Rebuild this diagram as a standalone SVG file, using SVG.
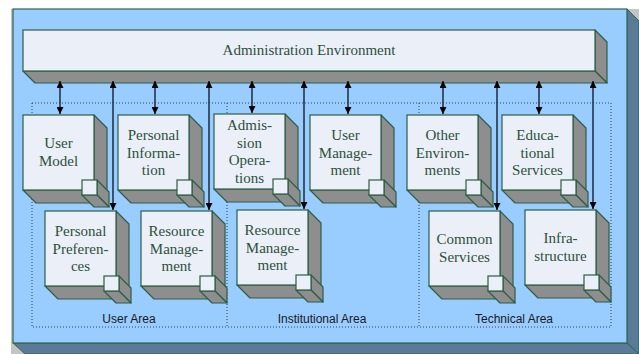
<svg xmlns="http://www.w3.org/2000/svg" width="639" height="354" viewBox="0 0 639 354">
<defs>
<style>
.front{fill:#ebf0f8;stroke:#2d5e44;stroke-width:1.2}
.side{fill:#8e8e8e;stroke:#2d5e44;stroke-width:1.2;stroke-linejoin:round}
.edge{fill:none;stroke:#2d5e44;stroke-width:1}
.lbl{font-family:'Liberation Serif',Tinos,'Times New Roman','DejaVu Serif',serif;font-size:15px;fill:#2e4f3c;text-anchor:middle}
.area{font-family:'Liberation Sans',Arial,sans-serif;font-size:12px;fill:#1a1a1a;text-anchor:middle}
.dot{fill:none;stroke:#334455;stroke-width:1;stroke-dasharray:1 2}
.conn{stroke:#1c2b3c;stroke-width:1.5;fill:none;marker-start:url(#ah);marker-end:url(#ah)}
</style>
<marker id="ah" viewBox="0 0 10 10" refX="10" refY="5" markerWidth="7" markerHeight="7" markerUnits="userSpaceOnUse" orient="auto-start-reverse">
<path d="M0,0 L10,5 L0,10 z" fill="#000"/>
</marker>
<g id="cube">
<polygon class="side" points="71,0 84,13 84,88 71,75"/>
<polygon class="side" points="0,75 71,75 84,88 13,88"/>
<rect class="front" x="0" y="0" width="71" height="75"/>
<polygon class="side" points="74,65 86,77 86,92 74,80"/>
<polygon class="side" points="59,80 74,80 86,92 71,92"/>
<line class="edge" x1="74" y1="80" x2="86" y2="92"/>
<rect class="front" x="59" y="65" width="15" height="15"/>
</g>
</defs>

<g id="background">
<polygon points="11,9 13,9 13,343 25,354 11,354" fill="#c4c4c4"/>
<polygon points="627,9 639,9 639,21" fill="#c4c4c4"/>
<polygon points="627,9 639,21 639,354 627,343" fill="#5b7a98" stroke="#2d6650" stroke-width="1"/>
<polygon points="13,343 627,343 639,354 25,354" fill="#5b7a98" stroke="#2d6650" stroke-width="1"/>
<rect x="13" y="9" width="614" height="334" fill="#99ccff" stroke="#2d6650" stroke-width="1.2"/>
</g>

<g id="areas">
<rect class="dot" x="32" y="103" width="579" height="224"/>
<line class="dot" x1="227" y1="103" x2="227" y2="327"/>
<line class="dot" x1="419" y1="103" x2="419" y2="327"/>
<text class="area" x="129" y="323">User Area</text>
<text class="area" x="322" y="323">Institutional Area</text>
<text class="area" x="514" y="323">Technical Area</text>
</g>

<g id="admin">
<polygon class="side" points="595,30 607,42 607,83 595,71"/>
<polygon class="side" points="23,71 595,71 607,83 35,83"/>
<rect class="front" x="23" y="30" width="572" height="41"/>
<text class="lbl" x="309" y="55">Administration Environment</text>
</g>

<g id="user-model" transform="translate(23,115)"><use href="#cube"/>
<text class="lbl"><tspan x="35.5" y="33">User</tspan><tspan x="35.5" y="51">Model</tspan></text></g>
<g id="personal-information" transform="translate(118,115)"><use href="#cube"/>
<text class="lbl"><tspan x="35.5" y="25">Personal</tspan><tspan x="35.5" y="42.5">Informa-</tspan><tspan x="35.5" y="60">tion</tspan></text></g>
<g id="admission-operations" transform="translate(214,114)"><use href="#cube"/>
<text class="lbl"><tspan x="35.5" y="16">Admis-</tspan><tspan x="35.5" y="33.5">sion</tspan><tspan x="35.5" y="51">Opera-</tspan><tspan x="35.5" y="68.5">tions</tspan></text></g>
<g id="user-management" transform="translate(310,115)"><use href="#cube"/>
<text class="lbl"><tspan x="35.5" y="25">User</tspan><tspan x="35.5" y="42.5">Manage-</tspan><tspan x="35.5" y="60">ment</tspan></text></g>
<g id="other-environments" transform="translate(407,115)"><use href="#cube"/>
<text class="lbl"><tspan x="35.5" y="25">Other</tspan><tspan x="35.5" y="42.5">Environ-</tspan><tspan x="35.5" y="60">ments</tspan></text></g>
<g id="educational-services" transform="translate(502,115)"><use href="#cube"/>
<text class="lbl"><tspan x="35.5" y="25">Educa-</tspan><tspan x="35.5" y="42.5">tional</tspan><tspan x="35.5" y="60">Services</tspan></text></g>

<g id="personal-preferences" transform="translate(45,211)"><use href="#cube"/>
<text class="lbl"><tspan x="35.5" y="25">Personal</tspan><tspan x="35.5" y="42.5">Preferen-</tspan><tspan x="35.5" y="60">ces</tspan></text></g>
<g id="resource-management-user" transform="translate(141,211)"><use href="#cube"/>
<text class="lbl"><tspan x="35.5" y="25">Resource</tspan><tspan x="35.5" y="42.5">Manage-</tspan><tspan x="35.5" y="60">ment</tspan></text></g>
<g id="resource-management-inst" transform="translate(237,210)"><use href="#cube"/>
<text class="lbl"><tspan x="35.5" y="25">Resource</tspan><tspan x="35.5" y="42.5">Manage-</tspan><tspan x="35.5" y="60">ment</tspan></text></g>
<g id="common-services" transform="translate(429,211)"><use href="#cube"/>
<text class="lbl"><tspan x="35.5" y="33">Common</tspan><tspan x="35.5" y="51">Services</tspan></text></g>
<g id="infrastructure" transform="translate(525,210)"><use href="#cube"/>
<text class="lbl"><tspan x="35.5" y="33">Infra-</tspan><tspan x="35.5" y="51">structure</tspan></text></g>

<g id="connectors">
<line class="conn" x1="60" y1="81" x2="60" y2="114"/>
<line class="conn" x1="155" y1="81" x2="155" y2="114"/>
<line class="conn" x1="252" y1="81" x2="252" y2="113"/>
<line class="conn" x1="348" y1="81" x2="348" y2="114"/>
<line class="conn" x1="443" y1="81" x2="443" y2="114"/>
<line class="conn" x1="539" y1="81" x2="539" y2="114"/>
<line class="conn" x1="113" y1="81" x2="113" y2="210"/>
<line class="conn" x1="209" y1="81" x2="209" y2="210"/>
<line class="conn" x1="304" y1="81" x2="304" y2="209"/>
<line class="conn" x1="497" y1="81" x2="497" y2="210"/>
<line class="conn" x1="593" y1="81" x2="593" y2="209"/>
</g>
</svg>
